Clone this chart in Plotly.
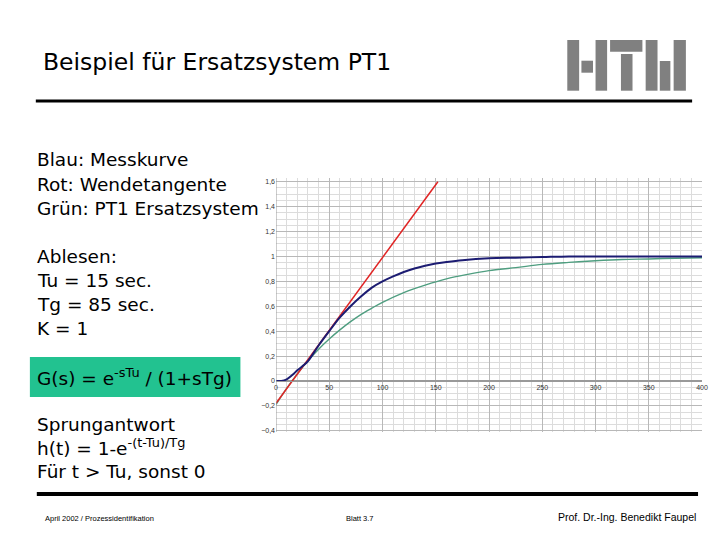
import plotly.graph_objects as go

# ---- data ----
t_blue = [0, 5, 10, 15, 20, 25, 30, 40, 50, 60, 70, 80, 90, 100, 110, 120, 130, 140, 150, 160, 175, 200, 225, 250, 275, 300, 350, 400]
v_blue = [0.0, 0.0, 0.013, 0.045, 0.085, 0.12, 0.16, 0.285, 0.40, 0.51, 0.60, 0.68, 0.75, 0.80, 0.84, 0.875, 0.903, 0.925, 0.943, 0.955, 0.97, 0.985, 0.99, 0.995, 1.0, 1.0, 1.0, 1.0]

t_red = [0, 152]
v_red = [-0.18, 1.6]

t_green = [0, 10, 20, 30, 40, 50, 60, 70, 80, 90, 100, 120, 140, 160, 180, 200, 225, 250, 275, 300, 325, 350, 375, 400]
v_green = [-0.19, -0.06, 0.057, 0.162, 0.255, 0.337, 0.41, 0.476, 0.535, 0.585, 0.632, 0.71, 0.77, 0.82, 0.856, 0.886, 0.91, 0.936, 0.952, 0.965, 0.975, 0.98, 0.986, 0.99]

y_ticks = [-0.4, -0.2, 0, 0.2, 0.4, 0.6, 0.8, 1.0, 1.2, 1.4, 1.6]
x_ticks = [0, 50, 100, 150, 200, 250, 300, 350, 400]

# ---- geometry ----
FW, FH = 720, 540
L, R, T, B = 276, 13, 178, 108
W = FW - L - R
H = FH - T - B
YMIN, YMAX = -0.41, 1.63


def px(x):
    return (x - L) / W


def py(y):
    return (FH - B - y) / H


fig = go.Figure()
fig.add_trace(go.Scatter(x=t_green, y=v_green, mode="lines", line=dict(color="#4f9e80", width=1.4, shape="spline"), hoverinfo="skip"))
fig.add_trace(go.Scatter(x=t_red, y=v_red, mode="lines", line=dict(color="#e02424", width=1.5), hoverinfo="skip"))
fig.add_trace(go.Scatter(x=t_blue, y=v_blue, mode="lines", line=dict(color="#1c1c72", width=2.0, shape="spline"), hoverinfo="skip"))

TXT = "DejaVu Sans"
ann = []


def text(x, y, s, size, color="black", xanchor="left", family=TXT):
    ann.append(dict(x=px(x), y=py(y), xref="paper", yref="paper", text=s, showarrow=False,
                    xanchor=xanchor, yanchor="middle", font=dict(family=family, size=size, color=color), align="left"))


text(38, 62, "Beispiel für Ersatzsystem PT1", 23.5)
left_lines = [
    (160, "Blau: Messkurve"),
    (184, "Rot: Wendetangente"),
    (208, "Grün: PT1 Ersatzsystem"),
    (256, "Ablesen:"),
    (280, "Tu = 15 sec."),
    (304, "Tg = 85 sec."),
    (328, "K = 1"),
    (424, "Sprungantwort"),
    (447, "h(t) = 1-e<sup>-(t-Tu)/Tg</sup>"),
    (471, "Für t > Tu, sonst 0"),
]
for y, s in left_lines:
    text(32, y, s, 18.5)
text(32, 377, "G(s) = e<sup>-sTu</sup> / (1+sTg)", 18.5)

text(40, 518, "April 2002 / Prozessidentifikation", 7.5, family="Liberation Sans")
text(345, 518, "Blatt 3.7", 7.5, family="Liberation Sans")
text(703, 517, "Prof. Dr.-Ing. Benedikt Faupel", 10.5, xanchor="right", family="Liberation Sans")

shapes = []
# green formula box
shapes.append(dict(type="rect", xref="paper", yref="paper", x0=px(27), x1=px(240), y0=py(397), y1=py(357),
                   fillcolor="#22c290", line=dict(width=0), layer="below"))
# rules
shapes.append(dict(type="line", xref="paper", yref="paper", x0=px(33), x1=px(697), y0=py(101), y1=py(101),
                   line=dict(color="black", width=3)))
shapes.append(dict(type="line", xref="paper", yref="paper", x0=px(34), x1=px(703), y0=py(494), y1=py(494),
                   line=dict(color="black", width=4)))
# HTW logo
logo = [(570.7, 582.7, 40, 90.7), (585, 596.7, 60.7, 72.7), (599.3, 611, 40, 90.7),
        (614, 646.7, 40, 51.7), (625, 636.7, 54, 90.7),
        (650, 662, 40, 90.7), (664.3, 675, 61, 90.7), (678.3, 690.7, 40, 90.7)]
for x0, x1, y0, y1 in logo:
    shapes.append(dict(type="rect", xref="paper", yref="paper", x0=px(x0), x1=px(x1), y0=py(y1), y1=py(y0),
                       fillcolor="#808080", line=dict(width=0)))

fig.update_layout(
    width=FW, height=FH,
    margin=dict(l=L, r=R, t=T, b=B, pad=0),
    paper_bgcolor="white", plot_bgcolor="white",
    showlegend=False,
    separators=",.",
    annotations=ann,
    shapes=shapes,
    xaxis=dict(range=[0, 400], tickvals=x_ticks, showgrid=True, gridcolor="#b8b8b8", gridwidth=1,
               minor=dict(dtick=10, tick0=0, showgrid=True, gridcolor="#dcdcdc", gridwidth=1),
               anchor="free", position=(0 - YMIN) / (YMAX - YMIN),
               showline=True, linecolor="#999999", linewidth=1, zeroline=False,
               tickfont=dict(family="Liberation Sans", size=7, color="#333333"), ticks="", ticklen=0),
    yaxis=dict(range=[YMIN, YMAX], tickvals=y_ticks, showgrid=True, gridcolor="#b8b8b8", gridwidth=1,
               minor=dict(dtick=0.05, tick0=0, showgrid=True, gridcolor="#dcdcdc", gridwidth=1),
               showline=False, zeroline=True, zerolinecolor="#999999", zerolinewidth=1,
               tickfont=dict(family="Liberation Sans", size=7, color="#333333"), ticks="", ticklen=0),
)
# vertical axis line at t=0
fig.add_vline(x=0, line=dict(color="#999999", width=1))

fig.write_html("out.html")
